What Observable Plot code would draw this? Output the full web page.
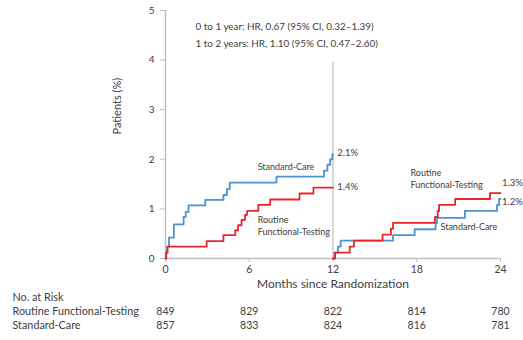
<!DOCTYPE html>
<html><head><meta charset="utf-8">
<script src="https://cdn.jsdelivr.net/npm/d3@7"></script>
<script src="https://cdn.jsdelivr.net/npm/@observablehq/plot@0.6"></script>
<style>
body{margin:0;background:#fff;}
svg{font-family:Lato,"Open Sans",sans-serif;}
</style>
</head><body><div id="chart"></div>
<script>
// Cumulative incidence, Standard-Care (blue)
const scYear1Months = [0,0.05,0.12,0.25,0.6,1.3,1.45,1.65,2.85,4.15,4.4,4.6,7.95,11.35,11.6,11.8,11.95,12];
const scYear1Pct    = [0,0.12,0.24,0.42,0.69,0.84,0.94,1.07,1.18,1.28,1.4,1.53,1.65,1.77,1.89,2.0,2.1,2.1];
const scYear2Months = [12,12.1,12.35,12.55,16.3,17.85,19.35,19.45,21.45,23.75,23.9,24];
const scYear2Pct    = [0,0.12,0.24,0.36,0.47,0.59,0.71,0.82,0.96,1.08,1.2,1.2];
// Routine Functional-Testing (red)
const rftYear1Months = [0,0.05,0.15,2.95,4.15,5.0,5.2,5.45,5.7,5.85,6.65,7.5,9.6,10.6,12];
const rftYear1Pct    = [0,0.12,0.24,0.35,0.47,0.57,0.67,0.78,0.88,0.96,1.08,1.19,1.31,1.43,1.43];
const rftYear2Months = [12,12.15,13.2,13.5,15.55,16.15,16.3,19.3,19.5,19.6,20.75,23.25,24];
const rftYear2Pct    = [0,0.12,0.24,0.36,0.48,0.6,0.72,0.84,0.96,1.08,1.2,1.32,1.32];

const xTicks = [0,6,12,18,24];
const yTicks = [0,1,2,3,4,5];
const riskRft = [849,829,822,814,780];
const riskSc  = [857,833,824,816,781];
const riskLabels = ["No. at Risk","Routine Functional-Testing","Standard-Care"];
const hrLines = ["0 to 1 year: HR, 0.67 (95% CI, 0.32\u20131.39)","1 to 2 years: HR, 1.10 (95% CI, 0.47\u20132.60)"];

// annotation labels (month, percent, text)
const endLabels = [
  {x:12.3, y:2.12, t:"2.1%"},
  {x:12.3, y:1.44, t:"1.4%"},
  {x:24.1, y:1.52, t:"1.3%"},
  {x:24.1, y:1.14, t:"1.2%"}
];
const seriesLabels = [
  {x:6.6, y:1.84, t:"Standard-Care"},
  {x:6.6, y:0.77, t:"Routine"},
  {x:6.6, y:0.53, t:"Functional-Testing"},
  {x:17.55, y:1.72, t:"Routine"},
  {x:17.55, y:1.48, t:"Functional-Testing"},
  {x:19.7, y:0.63, t:"Standard-Care"}
];

const blue = "#4d93cf", red = "#e8252d", grey = "#bfbfbf", ink = "#404040";
const toRows = (ms, ps, period) => ms.map((m,i) => ({m, p: ps[i], period}));
const scRows = [...toRows(scYear1Months, scYear1Pct, 1), ...toRows(scYear2Months, scYear2Pct, 2)];
const rftRows = [...toRows(rftYear1Months, rftYear1Pct, 1), ...toRows(rftYear2Months, rftYear2Pct, 2)];

const chart = Plot.plot({
  width: 523, height: 340,
  marginLeft: 165, marginRight: 23, marginTop: 10, marginBottom: 82,
  x: {domain: [0,24]},
  y: {domain: [0,5]},
  style: {fontFamily: "Lato, 'Open Sans', sans-serif", color: ink, fontSize: "10px", background: "#fff", overflow: "visible"},
  marks: [
    Plot.ruleY([0], {stroke: grey, strokeWidth: 1.5}),
    Plot.ruleX([0], {y1: 0, y2: 5, stroke: grey, strokeWidth: 1.5}),
    Plot.ruleX([12], {y1: 0, y2: 3.95, stroke: grey, strokeWidth: 1.2}),
    Plot.axisY({ticks: yTicks, tickFormat: d3.format("d"), tickSize: 5, tickPadding: 6, stroke: grey, label: null, fontSize: 10}),
    Plot.axisX({ticks: xTicks, tickFormat: d3.format("d"), tickSize: 4, tickPadding: 3, stroke: grey, label: null, fontSize: 10.5}),
    Plot.line(scRows, {x: "m", y: "p", z: "period", stroke: blue, strokeWidth: 1.8, curve: "step-after"}),
    Plot.line(rftRows, {x: "m", y: "p", z: "period", stroke: red, strokeWidth: 1.8, curve: "step-after"}),
    Plot.text(endLabels, {x: "x", y: "y", text: "t", textAnchor: "start", fontSize: 9.5, fill: ink}),
    Plot.text(seriesLabels, {x: "x", y: "y", text: "t", textAnchor: "start", fontSize: 9, fill: ink}),
    Plot.text(["Patients (%)"], {frameAnchor: "left", rotate: -90, dx: -48, fontSize: 11, fill: ink}),
    Plot.text([hrLines[0]], {frameAnchor: "top-left", dx: 30, dy: 12, textAnchor: "start", fontSize: 9.9, fill: ink}),
    Plot.text([hrLines[1]], {frameAnchor: "top-left", dx: 30, dy: 29, textAnchor: "start", fontSize: 9.9, fill: ink}),
    Plot.text(["Months since Randomization"], {frameAnchor: "bottom", dy: 29, fontSize: 12, fill: ink}),
    Plot.text([riskLabels[0]], {frameAnchor: "bottom-left", dx: -153, dy: 42, textAnchor: "start", fontSize: 10.8, fill: ink}),
    Plot.text([riskLabels[1]], {frameAnchor: "bottom-left", dx: -153, dy: 56, textAnchor: "start", fontSize: 10.8, fill: ink}),
    Plot.text([riskLabels[2]], {frameAnchor: "bottom-left", dx: -153, dy: 70, textAnchor: "start", fontSize: 10.8, fill: ink}),
    Plot.text(xTicks, {x: d => d, text: (d,i) => String(riskRft[i]), frameAnchor: "bottom", dy: 56, fontSize: 10.5, fill: ink}),
    Plot.text(xTicks, {x: d => d, text: (d,i) => String(riskSc[i]), frameAnchor: "bottom", dy: 70, fontSize: 10.5, fill: ink})
  ]
});
document.getElementById("chart").appendChild(chart);
</script>
</body></html>
